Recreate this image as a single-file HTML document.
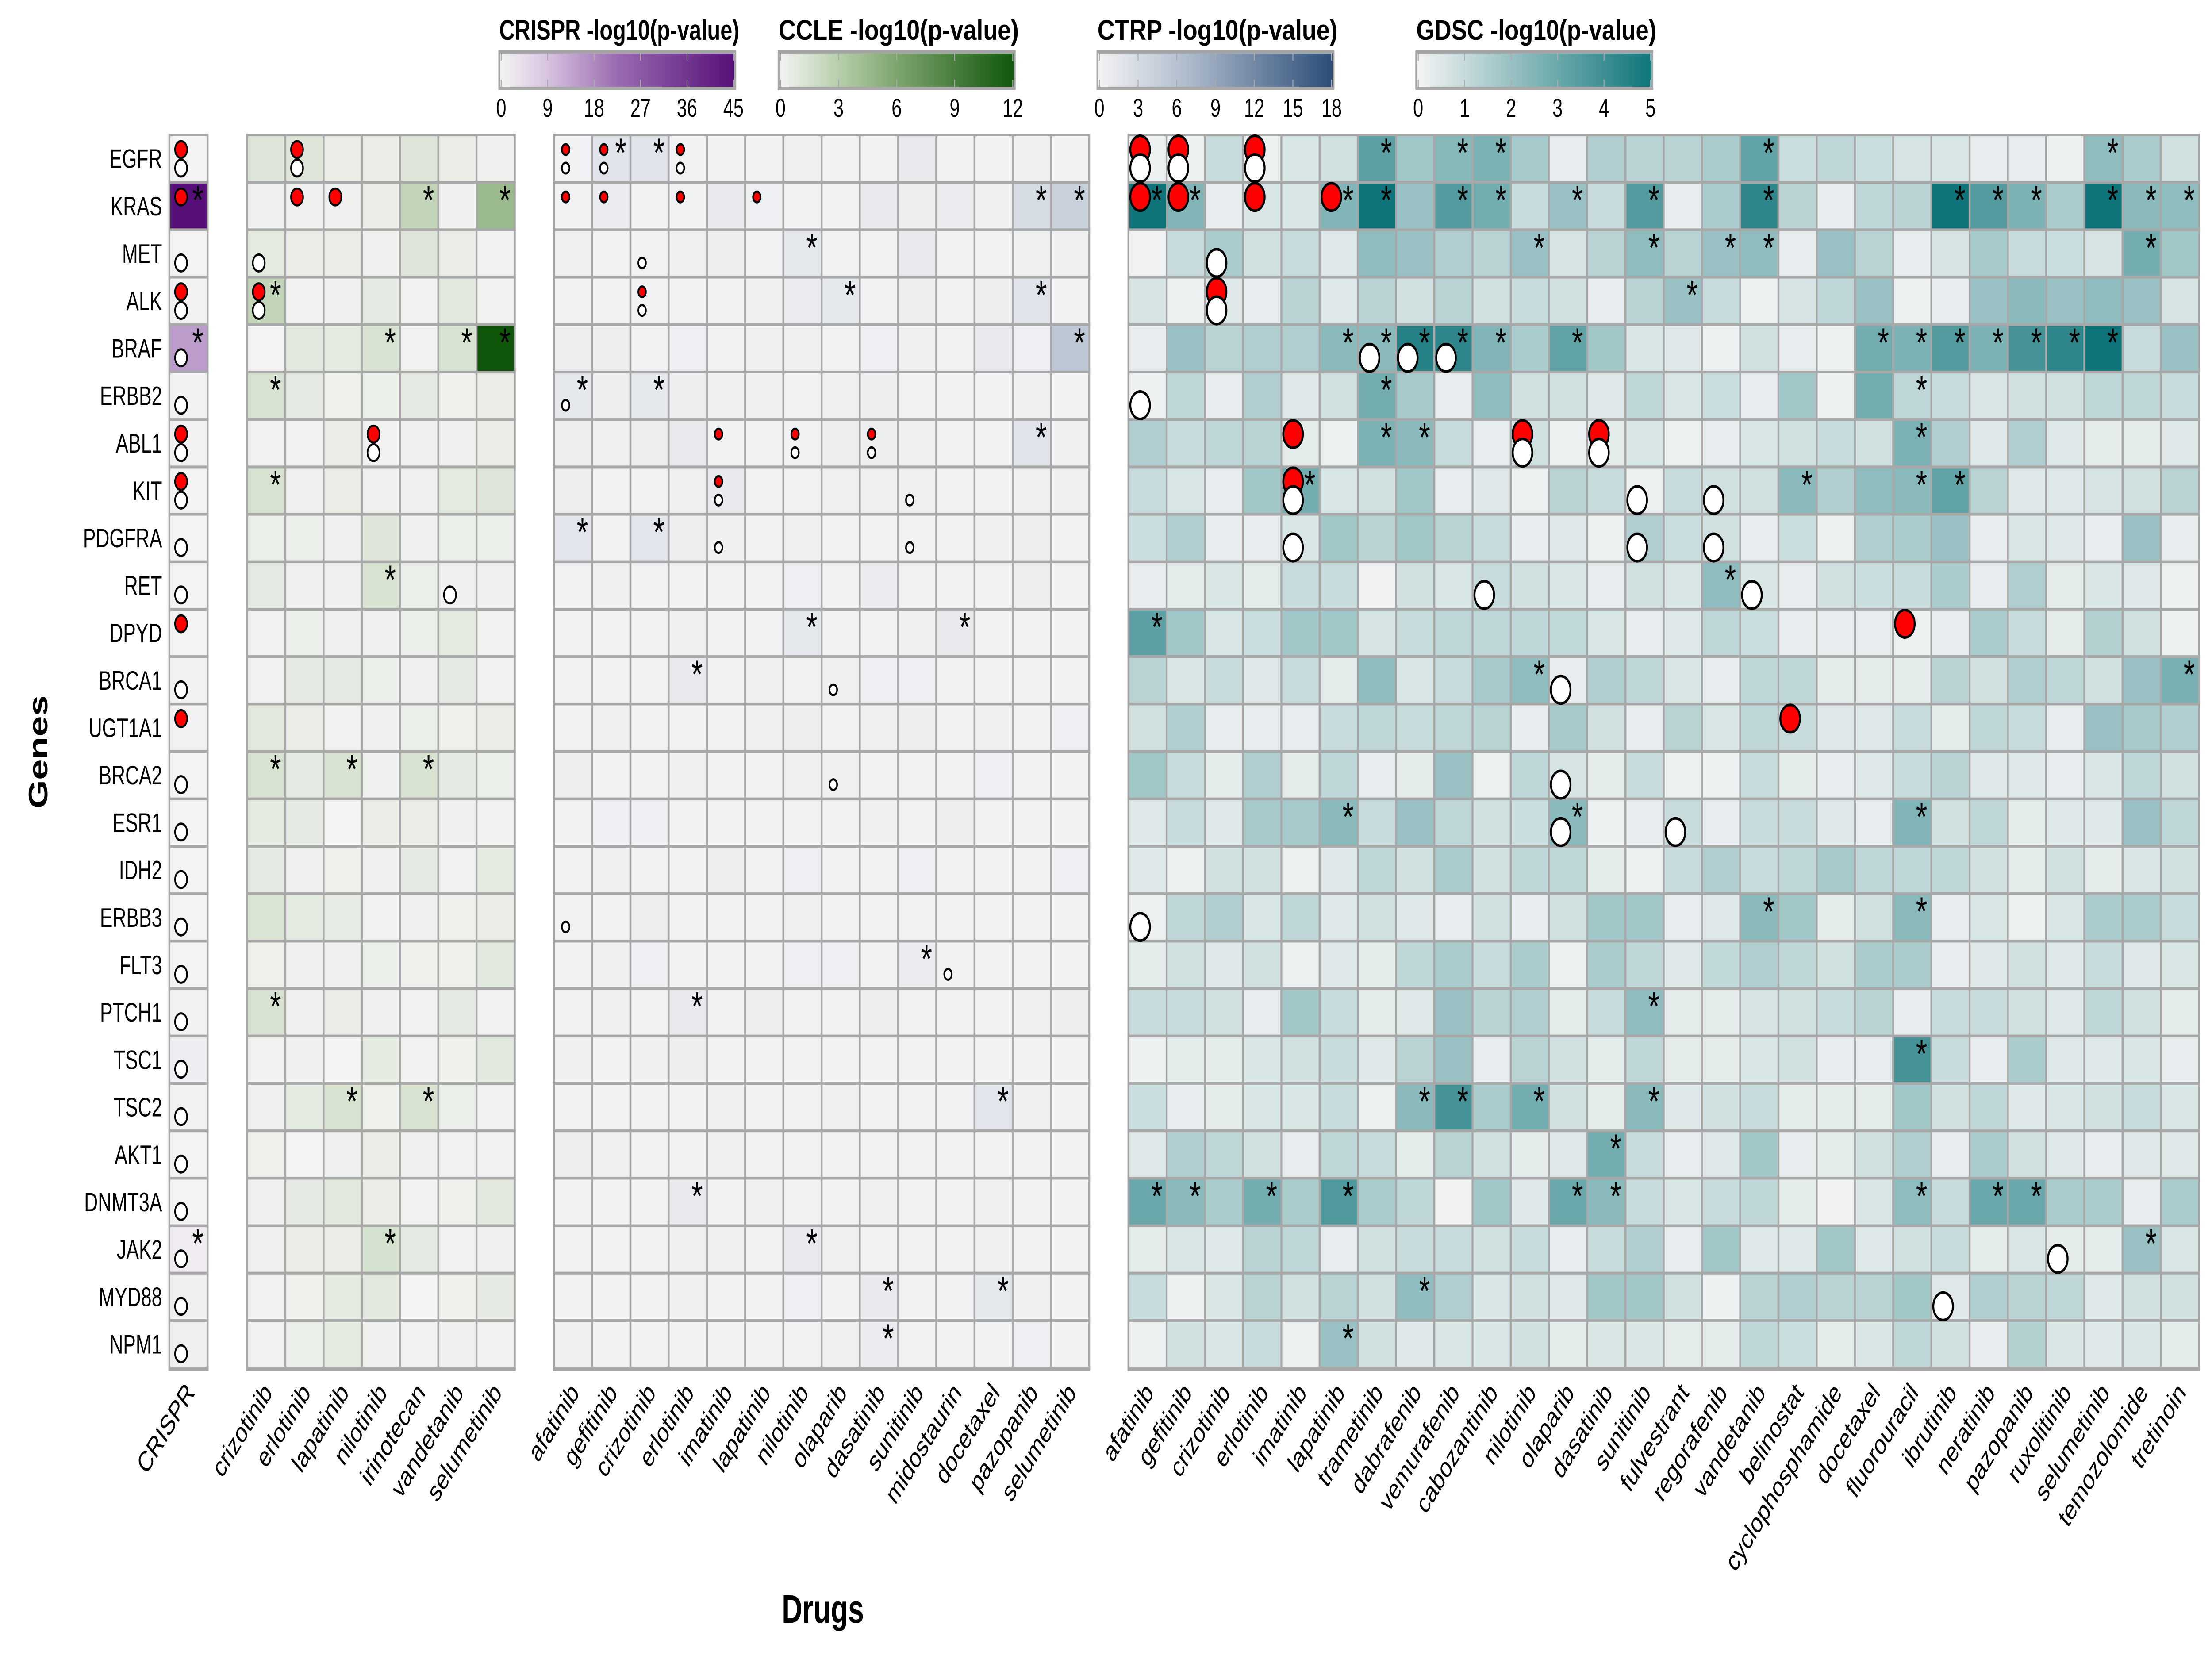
<!DOCTYPE html>
<html><head><meta charset="utf-8">
<style>
html,body{margin:0;padding:0;background:#fff;width:100%;height:100%;overflow:hidden;}
svg{display:block;width:100vw;height:100vh;font-family:"Liberation Sans",Arial,sans-serif;}
</style></head>
<body>
<svg id="chart" xmlns="http://www.w3.org/2000/svg" viewBox="0 0 7000 3750" preserveAspectRatio="none">
<rect x="0" y="0" width="7000" height="3750" fill="#ffffff"/>
<g id="legends"></g>
<g id="panels"></g>
<g id="labels"></g>
<text x="150" y="1700" font-size="84" font-weight="bold" text-anchor="middle" transform="rotate(-90 150 1700)">Genes</text>
<text x="2604" y="3668" font-size="90" font-weight="bold" text-anchor="middle">Drugs</text>
</svg>
<script>
const genes = ["EGFR","KRAS","MET","ALK","BRAF","ERBB2","ABL1","KIT","PDGFRA","RET","DPYD","BRCA1","UGT1A1","BRCA2","ESR1","IDH2","ERBB3","FLT3","PTCH1","TSC1","TSC2","AKT1","DNMT3A","JAK2","MYD88","NPM1"];
const crisprDrugs = ["CRISPR"];
const ccleDrugs = ["crizotinib","erlotinib","lapatinib","nilotinib","irinotecan","vandetanib","selumetinib"];
const ctrpDrugs = ["afatinib","gefitinib","crizotinib","erlotinib","imatinib","lapatinib","nilotinib","olaparib","dasatinib","sunitinib","midostaurin","docetaxel","pazopanib","selumetinib"];
const gdscDrugs = ["afatinib","gefitinib","crizotinib","erlotinib","imatinib","lapatinib","trametinib","dabrafenib","vemurafenib","cabozantinib","nilotinib","olaparib","dasatinib","sunitinib","fulvestrant","regorafenib","vandetanib","belinostat","cyclophosphamide","docetaxel","fluorouracil","ibrutinib","neratinib","pazopanib","ruxolitinib","selumetinib","temozolomide","tretinoin"];

const crisprVals = [[0.3],[45],[0.3],[1],[15],[0.8],[1],[0.6],[0.5],[0.5],[0.4],[0.8],[1],[0.5],[0.6],[0.5],[0.5],[0.6],[0.8],[1.5],[0.8],[0.6],[0.6],[1.8],[1.2],[1.2]];
const ccleVals = [
[1.2,1.2,0.6,0.6,1.2,0.6,0.3],[0.3,0.3,0.3,0.6,2.5,0.3,4.5],[0.9,0.6,0.6,0.3,1.2,0.6,0.2],[2.5,0.2,0.3,0.8,0.2,1.0,0.2],
[0.1,1.0,0.9,1.5,0.2,1.5,12],[1.5,0.8,0.4,0.5,0.8,0.4,0.6],[0.2,0.2,0.6,0.2,0.3,0.3,0.6],[1.5,0.3,0.6,0.3,0.3,0.9,1.2],
[0.5,0.5,0.3,1.2,0.3,0.5,0.5],[0.8,0.3,0.3,1.5,0.5,0.3,0.3],[0.2,0.5,0.3,0.3,0.5,0.9,0.2],[0.2,0.8,0.8,0.5,0.3,0.8,0.2],
[1.0,0.6,0.2,0.3,0.5,0.4,0.6],[1.5,0.8,1.5,0.3,1.5,0.8,0.5],[0.9,0.8,0.1,0.6,0.6,0.3,0.2],[0.8,0.3,0.4,0.3,0.8,0.2,0.9],
[1.3,0.9,0.7,0.2,0.3,0.4,0.6],[0.4,0.3,0.3,0.5,0.4,0.4,1.0],[1.5,0.3,0.6,0.3,0.2,0.8,0.2],[0.2,0.3,0.1,0.9,0.2,0.4,1.0],
[0.3,0.9,1.5,0.4,1.5,0.5,0.2],[0.4,0.1,0.3,0.6,0.3,0.2,0.2],[0.3,0.8,1.0,0.6,0.2,0.4,1.0],[0.3,0.6,0.6,1.6,0.8,0.2,0.3],
[0.2,0.4,0.9,1.0,0.1,0.4,0.8],[0.2,0.5,0.9,0.3,0.2,0.3,0.2]];
const ctrpVals = [
[0.3,2.0,2.0,0.3,0.3,0.3,0.5,0.3,0.3,1.2,0.3,0.3,0.5,0.3],
[0.3,1.0,0.3,0.3,1.2,0.6,0.3,0.3,1.2,0.8,1.0,0.5,3.0,4.5],
[0.5,0.3,0.3,0.5,0.8,0.3,1.5,0.3,0.3,1.2,0.3,0.3,0.5,0.5],
[0.3,0.3,0.3,0.3,0.3,0.5,1.0,1.5,0.3,0.8,0.3,0.8,2.0,0.3],
[0.8,0.8,0.3,0.6,0.3,0.5,0.5,0.3,0.6,0.5,0.3,1.2,0.6,5.5],
[1.5,0.8,1.5,0.8,0.5,0.5,0.3,0.5,0.8,0.3,0.3,0.3,0.5,0.3],
[0.8,0.5,0.8,1.2,0.3,0.3,0.3,0.8,0.8,0.5,0.3,0.3,2.0,0.5],
[0.8,0.3,0.3,0.5,1.2,0.3,0.2,0.5,0.5,0.5,0.3,0.3,0.5,0.5],
[1.8,0.3,1.8,0.8,0.5,0.3,0.5,0.3,0.3,0.3,0.3,0.5,0.8,0.3],
[0.2,0.5,0.3,0.3,0.3,0.3,0.6,0.2,1.0,0.3,0.3,0.3,0.8,0.3],
[0.3,0.2,0.3,0.5,0.3,0.3,1.5,0.3,0.2,0.5,1.2,0.3,0.3,0.3],
[0.2,0.2,0.3,1.2,0.2,0.5,0.2,0.5,0.6,0.6,0.3,0.3,0.3,0.3],
[0.3,0.5,0.3,0.2,0.3,0.5,0.8,0.3,0.5,0.8,0.3,0.5,0.3,0.6],
[0.8,0.3,0.3,0.5,0.2,0.3,0.5,0.5,0.3,0.3,0.3,0.6,0.3,0.3],
[0.3,0.6,0.6,0.3,0.3,0.3,0.3,0.2,0.5,0.3,0.8,0.3,0.3,0.3],
[0.3,0.5,0.2,0.3,0.8,0.3,0.6,0.3,0.3,0.6,0.3,0.3,0.3,0.6],
[0.2,0.2,0.8,0.3,0.3,0.2,0.5,0.2,0.3,0.2,0.3,0.3,0.3,0.3],
[0.2,0.5,0.6,0.3,0.2,0.3,0.6,0.6,0.2,1.0,0.3,0.3,0.2,0.3],
[0.3,0.5,0.2,1.2,0.3,0.8,0.3,0.2,0.8,0.2,0.2,0.2,0.5,0.8],
[0.5,0.2,0.5,0.8,0.2,0.3,0.3,0.2,0.3,0.3,0.2,0.3,0.2,0.2],
[0.3,0.2,0.2,0.3,0.5,0.2,0.2,0.5,0.2,0.3,0.2,1.8,0.5,0.2],
[0.8,0.5,0.3,0.2,0.5,0.2,0.3,0.3,0.3,0.3,0.2,0.3,0.3,0.3],
[0.2,0.3,0.3,1.2,0.2,0.5,0.2,0.3,0.5,0.3,0.2,0.5,0.3,0.3],
[0.2,0.2,0.3,0.5,0.5,0.2,1.2,0.5,0.2,0.3,0.3,0.5,0.3,0.2],
[0.2,0.3,0.3,0.5,0.3,0.2,0.6,0.2,1.2,0.3,0.2,1.5,0.5,0.3],
[0.5,0.3,0.2,0.3,0.3,0.3,0.2,0.5,1.0,0.2,0.2,0.3,0.6,0.3]];
const gdscVals = [
[0.2,0.2,1.0,0.2,0.6,0.8,3.3,1.8,2.4,2.6,1.7,0.3,1.5,1.3,1.3,1.6,3.2,0.9,1.2,0.9,0.7,0.6,0.3,0.3,0.2,2.2,1.6,0.8],
[5,2.5,0.3,0.6,0.6,2.5,5,2,3.5,2.8,1.0,2,1.0,3.5,0.3,1.6,4.3,1.3,0.3,1.2,1.3,5,3.5,2.6,1.6,5,2.3,2.2],
[0.1,1.0,1.6,0.8,1.0,0.5,2.2,2.0,1.5,1.3,2.0,0.7,1.3,2.2,1.3,2.0,2.2,0.3,2.0,1.3,0.3,0.7,1.7,1.0,0.9,0.7,2.8,1.8],
[0.7,0.2,0.5,0.3,1.3,0.5,1.3,0.8,1.3,0.8,1.0,0.8,0.3,1.3,2.0,1.0,0.2,0.7,1.2,2.0,0.2,0.3,2.0,2.3,2.0,2.2,2.0,0.7],
[0.3,2.0,1.3,1.5,1.5,2.3,2.3,4.5,4.3,2.5,1.6,3.2,1.8,0.6,0.5,0.2,0.8,0.3,0.2,2.8,2.6,3.5,2.6,3.8,4.3,5,1.0,2.0],
[0.2,1.2,0.3,1.5,0.5,0.8,2.8,1.7,0.3,2.2,0.8,0.8,0.5,1.2,0.6,0.9,0.3,1.8,0.2,2.8,1.2,1.0,0.6,0.8,0.8,1.2,1.2,1.0],
[1.5,1.0,1.2,1.3,0.4,0.2,2.6,2.3,1.0,0.3,0.8,0.2,0.4,0.6,0.2,0.3,0.6,0.8,1.0,0.8,2.6,1.5,0.5,1.5,0.5,0.4,0.4,0.5],
[1.0,0.6,0.3,1.8,2.8,0.6,0.8,1.8,0.3,0.5,0.2,1.3,1.0,0.2,1.0,0.8,0.8,2.3,1.5,2.2,2.3,3.2,1.3,0.5,0.5,0.7,0.8,1.3],
[0.9,1.5,0.3,0.3,0.6,1.8,1.3,1.8,1.3,1.0,0.3,0.5,0.2,1.5,0.9,0.8,0.3,0.9,0.2,1.5,1.6,2.0,0.3,0.6,0.5,0.3,2.0,0.3],
[0.3,0.4,0.6,0.4,1.0,1.0,0.1,0.8,0.6,1.0,0.8,0.6,0.3,0.8,0.6,2.2,0.6,0.3,0.8,0.9,1.0,1.6,0.3,1.5,0.4,0.6,0.5,0.2],
[3.3,1.8,0.6,0.9,1.8,1.8,0.7,1.0,1.2,1.2,1.2,1.1,0.6,0.3,0.5,1.2,0.9,0.3,0.3,0.3,0.2,0.3,1.6,1.0,0.4,1.4,0.8,0.2],
[1.3,0.6,1.0,0.5,1.0,0.4,2.2,0.6,1.0,1.7,2.2,0.3,1.5,1.2,0.6,0.3,1.2,1.2,0.4,0.4,0.4,1.3,0.8,1.5,1.2,0.8,2.0,2.7],
[0.8,1.5,0.3,0.3,0.3,1.0,1.2,1.0,1.2,1.3,0.3,1.7,0.8,0.3,1.3,0.6,1.2,1.0,0.5,0.5,1.0,0.4,1.2,1.0,0.3,2.0,1.7,1.5],
[1.8,1.0,0.4,1.5,0.4,1.2,0.3,0.4,2.0,0.2,1.2,0.7,0.4,1.0,0.2,0.2,1.0,0.4,0.3,0.5,1.0,1.3,0.5,0.5,0.3,0.6,1.2,0.8],
[0.5,1.0,0.5,1.7,1.7,2.3,1.0,2.0,1.2,0.8,0.9,2.3,0.2,0.3,1.0,0.3,1.0,1.0,0.5,0.3,2.5,0.8,1.2,0.4,0.5,0.5,2.0,1.2],
[0.5,0.2,0.8,0.8,0.2,0.5,1.2,0.8,1.6,0.8,1.2,1.2,0.4,0.2,1.0,1.5,1.0,1.2,1.7,1.2,1.2,1.2,0.8,0.4,0.8,0.4,0.6,0.8],
[0.2,1.2,1.5,0.6,1.2,0.5,0.8,0.5,0.3,0.8,0.3,0.8,1.8,1.8,0.3,0.5,2.3,1.8,0.4,0.8,2.3,0.3,0.6,0.2,0.6,1.6,1.6,1.0],
[0.4,0.8,0.5,0.8,0.2,0.5,0.4,1.2,1.6,1.0,1.6,0.2,1.6,1.2,0.5,1.1,1.5,1.2,0.8,1.6,1.6,0.3,0.5,0.8,0.5,1.0,0.5,0.6],
[1.0,1.0,0.8,0.3,1.8,1.0,0.4,0.5,2.0,1.3,1.5,0.4,1.0,2.2,0.4,0.4,0.7,0.8,1.0,1.3,0.3,1.0,1.0,0.8,0.5,1.2,0.8,0.4],
[0.2,0.4,0.4,0.6,0.8,1.0,0.5,1.3,2.0,0.3,1.3,0.8,0.4,1.2,0.4,0.4,0.6,0.8,0.3,0.3,3.8,1.0,0.3,1.6,0.5,0.5,0.6,0.3],
[0.9,0.3,0.4,0.6,0.6,1.0,0.2,2.3,3.8,1.6,2.8,0.8,0.4,2.3,0.5,0.8,1.0,0.4,0.4,0.4,1.8,0.8,1.2,0.5,0.6,0.8,1.0,0.6],
[0.5,1.5,1.2,0.8,0.3,1.2,1.0,0.4,1.3,0.8,0.4,0.5,2.8,1.0,0.3,0.5,1.8,0.3,0.4,0.8,1.5,0.3,1.6,0.8,0.5,0.3,0.5,0.5],
[3.0,2.3,1.6,2.8,1.6,3.6,1.6,1.2,0.1,1.8,0.5,3.0,2.3,1.0,0.6,1.0,1.2,0.4,0.1,0.6,2.2,1.0,3.0,3.0,1.6,1.6,0.3,1.6],
[0.4,0.6,0.5,1.3,1.2,0.3,0.8,1.0,1.0,0.8,1.0,0.3,1.0,1.5,0.3,1.8,0.5,0.5,1.8,0.5,0.8,1.0,0.4,0.6,0.4,0.4,2.0,0.6],
[1.0,0.2,0.6,1.3,0.8,1.3,0.8,2.2,1.5,0.6,0.8,0.5,1.8,1.8,0.8,0.2,1.3,1.5,1.3,1.3,1.8,0.5,1.5,1.3,1.2,0.5,0.8,0.8],
[0.2,0.8,0.6,1.0,0.2,2.0,0.8,0.5,0.6,0.6,0.8,0.4,0.6,0.6,0.4,0.4,1.2,0.9,0.4,0.6,1.2,0.8,0.3,1.4,0.6,0.5,0.6,0.4]];

const crisprStars = [[],[0],[],[],[0],[],[],[],[],[],[],[],[],[],[],[],[],[],[],[],[],[],[],[0],[],[]];
const ccleStars = [[],[4,6],[],[0],[3,5,6],[0],[],[0],[],[3],[],[],[],[0,2,4],[],[],[],[],[0],[],[2,4],[],[],[3],[],[]];
const ctrpStars = [[1,2],[12,13],[6],[7,12],[13],[0,2],[12],[],[0,2],[],[6,10],[3],[],[],[],[],[],[9],[3],[],[11],[],[3],[6],[8,11],[8]];
const gdscStars = [[6,8,9,16,25],[0,1,5,6,8,9,11,13,16,21,22,23,25,26,27],[10,13,15,16,26],[14],[5,6,7,8,9,11,19,20,21,22,23,24,25],[6,20],[6,7,20],[4,17,20,21],[],[15],[0],[10,27],[],[],[5,11,20],[],[16,20],[],[13],[20],[7,8,10,13],[12],[0,1,3,5,11,12,20,22,23],[26],[7],[5]];
const crisprRed = [[0],[0],[],[0],[],[],[0],[0],[],[],[0],[],[0],[],[],[],[],[],[],[],[],[],[],[],[],[]];
const crisprWhite = [[0],[],[0],[0],[0],[0],[0],[0],[0],[0],[],[0],[],[0],[0],[0],[0],[0],[0],[0],[0],[0],[0],[0],[0],[0]];
const ccleRed = [[1],[1,2],[],[0],[],[],[3],[],[],[],[],[],[],[],[],[],[],[],[],[],[],[],[],[],[],[]];
const ccleWhite = [[1],[],[0],[0],[],[],[3],[],[],[5],[],[],[],[],[],[],[],[],[],[],[],[],[],[],[],[]];
const ctrpRed = [[0,1,3],[0,1,3,5],[],[2],[],[],[4,6,8],[4],[],[],[],[],[],[],[],[],[],[],[],[],[],[],[],[],[],[]];
const ctrpWhite = [[0,1,3],[],[2],[2],[],[0],[6,8],[4,9],[4,9],[],[],[7],[],[7],[],[],[0],[10],[],[],[],[],[],[],[],[]];
const gdscRed = [[0,1,3],[0,1,3,5],[],[2],[],[],[4,10,12],[4],[],[],[20],[],[17],[],[],[],[],[],[],[],[],[],[],[],[],[]];
const gdscWhite = [[0,1,3],[],[2],[2],[6,7,8],[0],[10,12],[4,13,15],[4,13,15],[9,16],[],[11],[],[11],[11,14],[],[0],[],[],[],[],[],[],[24],[21],[]];

const crisprTicks = [0,9,18,27,36,45];
const ccleTicks = [0,3,6,9,12];
const ctrpTicks = [0,3,6,9,12,15,18];
const gdscTicks = [0,1,2,3,4,5];

const NS = "http://www.w3.org/2000/svg";
function mk(tag, attrs, parent){const e=document.createElementNS(NS,tag);for(const k in attrs)e.setAttribute(k,attrs[k]);parent.appendChild(e);return e;}
function hex(c){return [parseInt(c.slice(1,3),16),parseInt(c.slice(3,5),16),parseInt(c.slice(5,7),16)];}
function scale(stops){return function(t){t=Math.max(0,Math.min(1,t));for(let i=1;i<stops.length;i++){if(t<=stops[i][0]){const a=stops[i-1],b=stops[i];const f=(t-a[0])/(b[0]-a[0]);const ca=hex(a[1]),cb=hex(b[1]);return "rgb("+ca.map((v,j)=>Math.round(v+(cb[j]-v)*f)).join(",")+")";}}return stops[stops.length-1][1];};}

const TOP=305, RH=107.2, CW=121;
const yScale = r => TOP + r*RH;
const panels = [
 {key:"crispr", drugs:crisprDrugs, vals:crisprVals, max:45, x0:536, stars:crisprStars, red:crisprRed, white:crisprWhite, r:19,
  col:scale([[0,"#f5f5f5"],[0.2,"#d8c4e0"],[0.5,"#9a6bb0"],[1,"#560f78"]]), ticks:crisprTicks, lx:1580, lab:"CRISPR -log10(p-value)"},
 {key:"ccle", drugs:ccleDrugs, vals:ccleVals, max:12, x0:782, stars:ccleStars, red:ccleRed, white:ccleWhite, r:19,
  col:scale([[0,"#f5f5f5"],[0.25,"#b8cfac"],[0.5,"#7ea56e"],[1,"#0f560a"]]), ticks:ccleTicks, lx:2464, lab:"CCLE -log10(p-value)"},
 {key:"ctrp", drugs:ctrpDrugs, vals:ctrpVals, max:18, x0:1753, stars:ctrpStars, red:ctrpRed, white:ctrpWhite, r:12,
  col:scale([[0,"#f4f4f5"],[0.35,"#b5c1d1"],[1,"#2b4c77"]]), ticks:ctrpTicks, lx:3473, lab:"CTRP -log10(p-value)"},
 {key:"gdsc", drugs:gdscDrugs, vals:gdscVals, max:5, x0:3571, stars:gdscStars, red:gdscRed, white:gdscWhite, r:31,
  col:scale([[0,"#f5f5f5"],[1,"#0e7479"]]), ticks:gdscTicks, lx:4482, lab:"GDSC -log10(p-value)"}
];

const gP=document.getElementById("panels"), gL=document.getElementById("labels"), gLeg=document.getElementById("legends");

genes.forEach((g,r)=>{
  const t=mk("text",{x:513,y:yScale(r)+RH/2+21,"font-size":60,"text-anchor":"end"},gL);
  
  
  t.textContent=g;
});

panels.forEach(p=>{
  const xScale = c => p.x0 + c*CW;
  const g=mk("g",{},gP);
  
  
  p.vals.forEach((row,r)=>{
    row.forEach((v,c)=>{
      const rc=mk("rect",{x:xScale(c),y:yScale(r),width:CW,height:RH,fill:p.col(v/p.max),stroke:"#a8a8a8","stroke-width":6},g);
      
      
    });
  });
  const bb=mk("line",{x1:p.x0-3,x2:xScale(p.drugs.length)+3,y1:yScale(genes.length)+2,y2:yScale(genes.length)+2,stroke:"#a8a8a8","stroke-width":10},g);
  
  
  p.red.forEach((cols,r)=>cols.forEach(c=>{
    const e=mk("circle",{cx:xScale(c)+37,cy:yScale(r)+33,r:p.r,fill:"#ff0000",stroke:"#000","stroke-width":p.r>20?6:5},g);
    
    
  }));
  p.white.forEach((cols,r)=>cols.forEach(c=>{
    const e=mk("circle",{cx:xScale(c)+37,cy:yScale(r)+75,r:p.r,fill:"#ffffff",stroke:"#000","stroke-width":p.r>20?6:5},g);
    
    
  }));
  p.stars.forEach((cols,r)=>cols.forEach(c=>{
    const e=mk("text",{x:xScale(c)+90,y:yScale(r)+72,"font-size":92,"text-anchor":"middle"},g);
    
    
    e.textContent="*";
  }));
  p.drugs.forEach((d,c)=>{
    const ax=xScale(c)+CW/2+22, ay=3150;
    const t=mk("text",{x:ax,y:ay,"font-size":64,"text-anchor":"end",transform:"rotate(-50 "+ax+" "+ay+")"},gL);
    
    
    t.textContent=d;
  });
  const lg=mk("g",{},gLeg);
  
  
  const W=747, bx=p.lx, by=117, bh=83;
  const tt=mk("text",{x:bx,y:90,"font-size":64,"font-weight":"bold",textLength:760,lengthAdjust:"spacingAndGlyphs"},lg);
  
  
  tt.textContent=p.lab;
  const defs=mk("defs",{},lg);
  const lgr=mk("linearGradient",{id:"grad-"+p.key,x1:0,x2:1,y1:0,y2:0},defs);
  for(let i=0;i<=10;i++){mk("stop",{offset:(i*10)+"%","stop-color":p.col(i/10)},lgr);}
  const br=mk("rect",{x:bx,y:by,width:W,height:bh,fill:"url(#grad-"+p.key+")",stroke:"#a8a8a8","stroke-width":6},lg);
  
  
  mk("rect",{x:bx-2,y:by-4,width:W+4,height:8,fill:"#a8a8a8"},lg);
  mk("rect",{x:bx-2,y:by+bh-4,width:W+4,height:8,fill:"#a8a8a8"},lg);
  const tmax=p.ticks[p.ticks.length-1];
  p.ticks.forEach(tv=>{
    const tx=bx+6+(W-12)*tv/tmax;
    mk("line",{x1:tx,x2:tx,y1:by+4,y2:by+20,stroke:"#aaaaaa","stroke-width":3},lg);
    mk("line",{x1:tx,x2:tx,y1:by+bh-20,y2:by+bh-4,stroke:"#aaaaaa","stroke-width":3},lg);
    const tl=mk("text",{x:tx,y:264,"font-size":58,"text-anchor":"middle"},lg);
    
    
    tl.textContent=String(tv);
  });
});
</script>
</body></html>
